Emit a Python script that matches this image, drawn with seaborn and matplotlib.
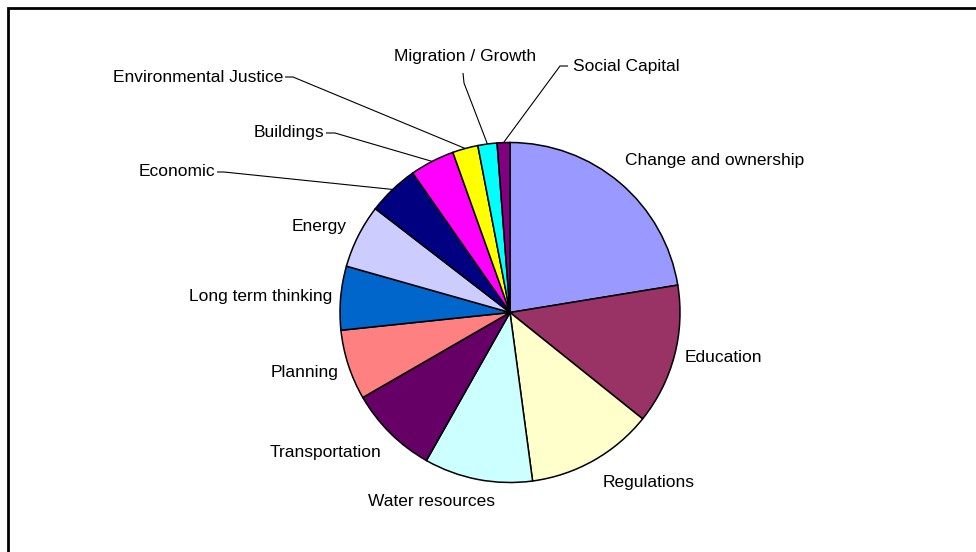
import numpy as np
import matplotlib
matplotlib.use("Agg")
import matplotlib.pyplot as plt
from matplotlib.patches import Rectangle
import seaborn as sns

# Topic counts, in clockwise order from 12 o'clock
categories = [
    "Change and ownership", "Education", "Regulations", "Water resources",
    "Transportation", "Planning", "Long term thinking", "Energy",
    "Economic", "Buildings", "Environmental Justice", "Migration / Growth",
    "Social Capital",
]
counts = [37, 22, 20, 17, 14, 11, 10, 10, 8, 7, 4, 3, 2]
slice_colors = [
    "#9999FF", "#993366", "#FFFFCC", "#CCFFFF", "#660066", "#FF8080",
    "#0066CC", "#CCCCFF", "#000080", "#FF00FF", "#FFFF00", "#00FFFF",
    "#800080",
]

sns.set_theme(style="white")
plt.rcParams["font.family"] = ["Liberation Sans", "DejaVu Sans"]

W, H = 976, 552
fig = plt.figure(figsize=(W / 100, H / 100), dpi=100)
ax = fig.add_axes([0, 0, 1, 1])
ax.set_xlim(0, W)
ax.set_ylim(0, H)
ax.set_aspect("equal")
ax.axis("off")


def Y(y):
    # pixel row (top-down) -> data y
    return H - y


cx, cy, r = 510, Y(312.5), 170
palette = sns.color_palette(slice_colors)
wedges, _ = ax.pie(
    counts, colors=palette, startangle=90, counterclock=False,
    center=(cx, cy), radius=r, frame=True,
    wedgeprops=dict(edgecolor="black", linewidth=1.1),
)
ax.set_xlim(0, W)
ax.set_ylim(0, H)
ax.axis("off")

# label placement: (x, y, horizontal alignment, leader elbow or None)
label_layout = [
    (625, 161, "left", None),
    (685, 358, "left", None),
    (603, 482, "left", None),
    (368, 501, "left", None),
    (270, 452, "left", None),
    (339, 372, "right", None),
    (332, 297, "right", None),
    (347, 226, "right", None),
    (215, 172, "right", [(217, 172), (224, 172)]),
    (324, 133, "right", [(326, 133), (335, 133)]),
    (283, 77, "right", [(285, 77), (293, 77)]),
    (465, 57, "center", [(463, 73), (464, 83)]),
    (573, 66, "left", [(568, 66), (560, 66)]),
]

for w, name, (lx, ly, ha, leader) in zip(wedges, categories, label_layout):
    ax.text(lx, Y(ly), name, ha=ha, va="center", fontsize=12.5, color="black")
    if leader is not None:
        mid = np.deg2rad((w.theta1 + w.theta2) / 2)
        rim = (cx + r * np.cos(mid), cy + r * np.sin(mid))
        xs = [p[0] for p in leader] + [rim[0]]
        ys = [Y(p[1]) for p in leader] + [rim[1]]
        ax.plot(xs, ys, color="black", linewidth=0.8, solid_capstyle="butt")

# chart area border
fig.patches.append(Rectangle((8 / W, 0 - 0.05), 1.1, (H - 8) / H + 0.05,
                             transform=fig.transFigure, fill=False,
                             edgecolor="black", linewidth=2.0))

fig.savefig("out.png", dpi=100, facecolor="white")
